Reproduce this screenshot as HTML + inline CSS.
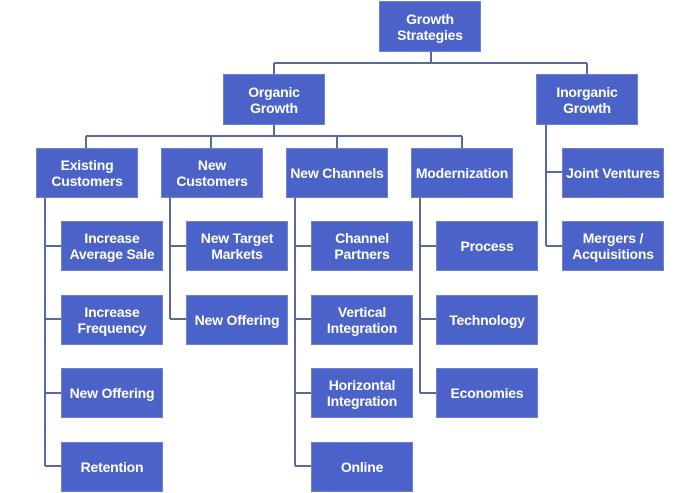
<!DOCTYPE html>
<html><head><style>
body{margin:0;width:700px;height:493px;background:#fff;position:relative;overflow:hidden;font-family:"Liberation Sans",sans-serif;}
.b{position:absolute;background:#4b63c8;border:1px solid #6f82c9;box-sizing:border-box;color:#fff;font-weight:bold;font-size:14px;line-height:16px;display:flex;align-items:center;justify-content:center;text-align:center;letter-spacing:-0.2px;}
svg{position:absolute;left:0;top:0;}
</style></head><body>
<svg width="700" height="493"><g stroke="#5a6a9f" stroke-width="2" fill="none">
<path d="M431 51V63M274 63H587M274 63V74M587 63V74"/>
<path d="M274 125V136M86 136H462M86 136V148M211 136V148M337 136V148M462 136V148"/>
<path d="M45 198V466M45 246H61M45 319H61M45 393H61M45 466H61"/>
<path d="M170 198V319M170 246H186M170 319H186"/>
<path d="M295 198V466M295 246H311M295 319H311M295 393H311M295 466H311"/>
<path d="M420 198V393M420 246H436M420 319H436M420 393H436"/>
<path d="M546 125V246M546 172H562M546 246H562"/>
</g></svg>
<div class="b" style="left:379px;top:1px;width:102px;height:51px">Growth<br>Strategies</div>
<div class="b" style="left:223px;top:74px;width:102px;height:51px">Organic<br>Growth</div>
<div class="b" style="left:536px;top:74px;width:102px;height:51px">Inorganic<br>Growth</div>
<div class="b" style="left:36px;top:148px;width:102px;height:50px">Existing<br>Customers</div>
<div class="b" style="left:161px;top:148px;width:102px;height:50px">New<br>Customers</div>
<div class="b" style="left:286px;top:148px;width:102px;height:50px">New Channels</div>
<div class="b" style="left:411px;top:148px;width:102px;height:50px">Modernization</div>
<div class="b" style="left:562px;top:148px;width:102px;height:50px">Joint Ventures</div>
<div class="b" style="left:562px;top:221px;width:102px;height:50px">Mergers /<br>Acquisitions</div>
<div class="b" style="left:61px;top:221px;width:102px;height:50px">Increase<br>Average Sale</div>
<div class="b" style="left:61px;top:295px;width:102px;height:50px">Increase<br>Frequency</div>
<div class="b" style="left:61px;top:368px;width:102px;height:50px">New Offering</div>
<div class="b" style="left:61px;top:442px;width:102px;height:50px">Retention</div>
<div class="b" style="left:186px;top:221px;width:102px;height:50px">New Target<br>Markets</div>
<div class="b" style="left:186px;top:295px;width:102px;height:50px">New Offering</div>
<div class="b" style="left:311px;top:221px;width:102px;height:50px">Channel<br>Partners</div>
<div class="b" style="left:311px;top:295px;width:102px;height:50px">Vertical<br>Integration</div>
<div class="b" style="left:311px;top:368px;width:102px;height:50px">Horizontal<br>Integration</div>
<div class="b" style="left:311px;top:442px;width:102px;height:50px">Online</div>
<div class="b" style="left:436px;top:221px;width:102px;height:50px">Process</div>
<div class="b" style="left:436px;top:295px;width:102px;height:50px">Technology</div>
<div class="b" style="left:436px;top:368px;width:102px;height:50px">Economies</div>
</body></html>
